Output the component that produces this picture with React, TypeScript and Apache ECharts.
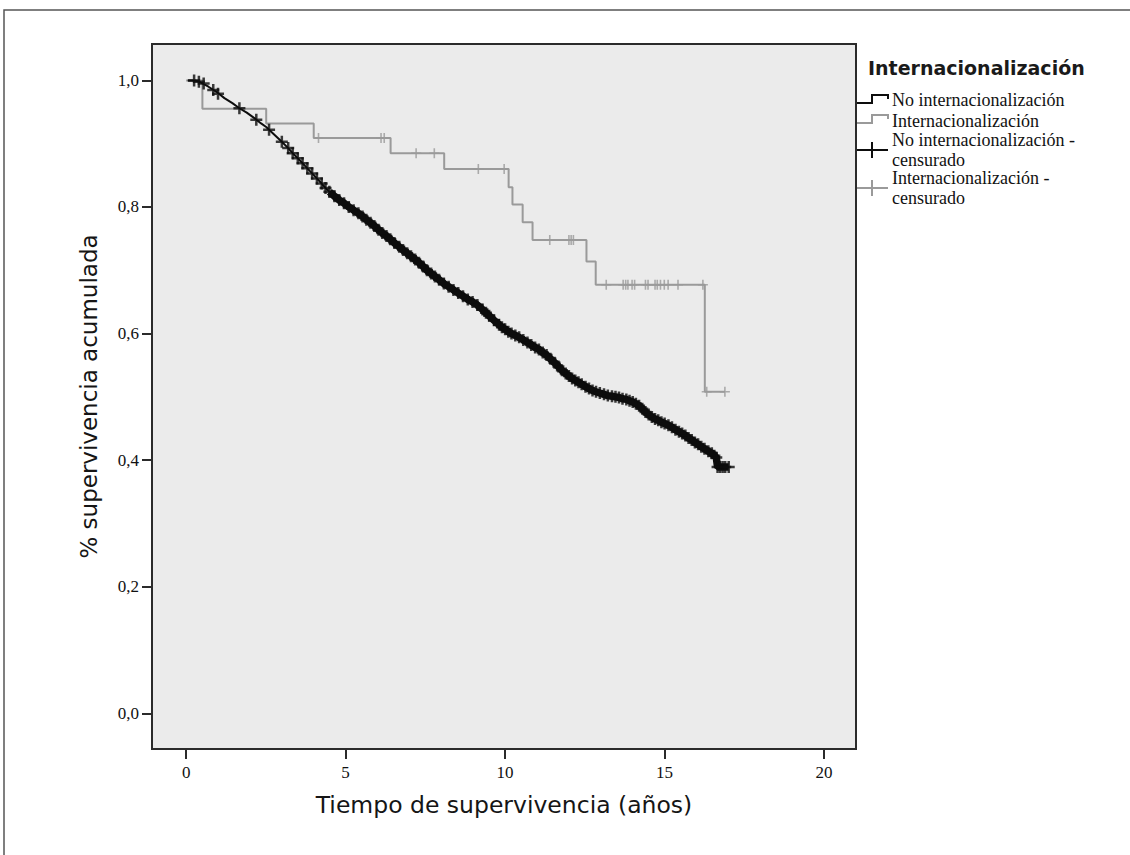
import React, { useEffect, useRef } from "react";
import * as echarts from "echarts";

// ---- data ----
const xTicks = [0, 5, 10, 15, 20];
const yTicks = [0, 0.2, 0.4, 0.6, 0.8, 1.0];

const seriesNames = [
  "No internacionalización",
  "Internacionalización",
  "No internacionalización - censurado",
  "Internacionalización - censurado",
];

// Internacionalización: Kaplan-Meier steps (time in years, cumulative survival)
const intlSteps: number[][] = [
  [0, 1.0], [0.51, 0.955], [2.51, 0.932], [4.0, 0.909], [6.41, 0.885], [8.09, 0.86],
  [10.11, 0.831], [10.23, 0.804], [10.55, 0.776], [10.86, 0.748], [12.55, 0.714],
  [12.84, 0.677], [16.26, 0.508], [16.89, 0.508],
];
const intlCensored: number[][] = [
  [4.15, 0.909], [6.11, 0.909], [6.21, 0.909], [7.21, 0.885], [7.78, 0.885],
  [9.16, 0.86], [9.97, 0.86], [11.4, 0.748], [12.0, 0.748], [12.07, 0.748], [12.14, 0.748],
  [13.17, 0.677], [13.7, 0.677], [13.78, 0.677], [13.85, 0.677], [13.98, 0.677], [14.06, 0.677],
  [14.4, 0.677], [14.48, 0.677], [14.7, 0.677], [14.77, 0.677], [14.87, 0.677], [14.99, 0.677],
  [15.11, 0.677], [15.42, 0.677], [16.2, 0.677], [16.32, 0.508], [16.89, 0.508],
];

// No internacionalización: dense curve (time, survival)
const noIntlCurve: number[][] = [
  [0.05, 1.0], [0.27, 1.0], [0.45, 0.997], [0.7, 0.99], [0.95, 0.982], [1.2, 0.972],
  [1.45, 0.964], [1.67, 0.956], [1.9, 0.949], [2.15, 0.94], [2.35, 0.932], [2.52, 0.926],
  [2.75, 0.915], [3.0, 0.903], [3.2, 0.893], [3.34, 0.885], [3.5, 0.877], [3.65, 0.869],
  [3.8, 0.861], [3.95, 0.853], [4.1, 0.845], [4.25, 0.837], [4.37, 0.83], [4.49, 0.824],
  [4.65, 0.817], [4.8, 0.811], [4.95, 0.806], [5.1, 0.8], [5.25, 0.795], [5.4, 0.79],
  [5.53, 0.785], [5.65, 0.78], [5.78, 0.775], [5.9, 0.77], [6.03, 0.764], [6.15, 0.759],
  [6.28, 0.754], [6.4, 0.749], [6.53, 0.743], [6.68, 0.737], [6.8, 0.732], [6.93, 0.727],
  [7.05, 0.722], [7.18, 0.717], [7.3, 0.712], [7.43, 0.706], [7.55, 0.7], [7.68, 0.695],
  [7.8, 0.69], [7.93, 0.685], [8.08, 0.679], [8.23, 0.674], [8.38, 0.669], [8.53, 0.664],
  [8.68, 0.659], [8.83, 0.654], [8.98, 0.65], [9.13, 0.645], [9.29, 0.638], [9.4, 0.633],
  [9.5, 0.628], [9.65, 0.621], [9.81, 0.614], [9.9, 0.61], [10.0, 0.607], [10.1, 0.603],
  [10.2, 0.6], [10.32, 0.597], [10.44, 0.594], [10.57, 0.59], [10.7, 0.586], [10.82, 0.582],
  [10.94, 0.578], [11.06, 0.575], [11.18, 0.57], [11.3, 0.566], [11.42, 0.56], [11.55, 0.554],
  [11.67, 0.548], [11.78, 0.542], [11.9, 0.537], [12.0, 0.533], [12.1, 0.529], [12.2, 0.526],
  [12.3, 0.523], [12.4, 0.52], [12.52, 0.516], [12.63, 0.513], [12.74, 0.51], [12.85, 0.508],
  [12.97, 0.506], [13.1, 0.504], [13.22, 0.502], [13.35, 0.501], [13.46, 0.5], [13.57, 0.499],
  [13.68, 0.497], [13.8, 0.496], [13.9, 0.494], [14.0, 0.492], [14.1, 0.489], [14.2, 0.486],
  [14.3, 0.481], [14.4, 0.476], [14.5, 0.472], [14.6, 0.468], [14.7, 0.465], [14.8, 0.463],
  [14.9, 0.46], [15.0, 0.458], [15.12, 0.455], [15.23, 0.452], [15.34, 0.448], [15.45, 0.445],
  [15.55, 0.442], [15.65, 0.439], [15.75, 0.435], [15.85, 0.432], [15.95, 0.428], [16.05, 0.425],
  [16.15, 0.421], [16.25, 0.418], [16.37, 0.414], [16.48, 0.411], [16.56, 0.407], [16.62, 0.404],
  [16.66, 0.389], [16.74, 0.389], [16.82, 0.389], [16.9, 0.389], [17.01, 0.389],
];
// early, sparse censored cases of the black curve
const noIntlEarlyCensored: number[][] = [
  [0.25, 1.0], [0.4, 0.998], [0.55, 0.995], [0.85, 0.985], [1.0, 0.979], [1.67, 0.956],
  [2.2, 0.938], [2.6, 0.922], [3.0, 0.903], [3.2, 0.893],
];

const BLACK = "#0d0d0d";
const GREY = "#9a9a9a";
const PLUS = "path://M5,0V10M0,5H10";

export default function App() {
  const ref = useRef<HTMLDivElement>(null);

  useEffect(() => {
    document.body.style.margin = "0";
    if (!ref.current) return;
    const chart = echarts.init(ref.current, null, { renderer: "svg" });

    const noIntlCensored = noIntlEarlyCensored.concat(noIntlCurve.filter((p) => p[0] >= 3.3));
    const denseBand = noIntlCurve.filter((p) => p[0] >= 4.4);

    const serif = "'Liberation Serif', 'Times New Roman', serif";
    const sans = "'DejaVu Sans', 'Open Sans', sans-serif";

    const stepIcon = (y: number, color: string) => ({
      type: "polyline",
      shape: { points: [[857, y + 4], [872, y + 4], [872, y - 4], [888, y - 4], [888, y]] },
      style: { stroke: color, lineWidth: 2, fill: "none" },
    });
    const crossIcon = (y: number, color: string) => ({
      type: "group",
      children: [
        { type: "line", shape: { x1: 857, y1: y, x2: 888, y2: y }, style: { stroke: color, lineWidth: 2 } },
        { type: "line", shape: { x1: 872, y1: y - 8, x2: 872, y2: y + 8 }, style: { stroke: color, lineWidth: 2 } },
      ],
    });
    const legendText = (y: number, text: string) => ({
      type: "text",
      x: 892,
      y,
      style: { text, font: `18px ${serif}`, fill: "#111", verticalAlign: "middle", lineHeight: 20 },
    });

    const option: any = {
      animation: false,
      backgroundColor: "#ffffff",
      grid: {
        left: 152, top: 44, width: 704, height: 705,
        show: true, backgroundColor: "#ebebeb", borderColor: "#2b2b2b", borderWidth: 2,
        containLabel: false, outerBoundsMode: "none",
      },
      xAxis: {
        type: "value", min: -1.07, max: 21.0,
        name: "Tiempo de supervivencia (años)", nameLocation: "middle", nameGap: 44,
        nameTextStyle: { fontFamily: sans, fontSize: 23.5, color: "#151515" },
        axisLine: { show: false, onZero: false },
        axisTick: { show: true, length: 10, customValues: xTicks, lineStyle: { color: "#2b2b2b", width: 2 } },
        axisLabel: { customValues: xTicks, margin: 15, fontFamily: serif, fontSize: 17, color: "#111" },
        splitLine: { show: false },
      },
      yAxis: {
        type: "value", min: -0.0564, max: 1.0575,
        name: "% supervivencia acumulada", nameLocation: "middle", nameGap: 52,
        nameTextStyle: { fontFamily: sans, fontSize: 23, color: "#151515" },
        axisLine: { show: false, onZero: false },
        axisTick: { show: true, length: 10, customValues: yTicks, lineStyle: { color: "#2b2b2b", width: 2 } },
        axisLabel: {
          customValues: yTicks, margin: 13, fontFamily: serif, fontSize: 17, color: "#111",
          formatter: (v: number) => v.toFixed(1).replace(".", ","),
        },
        splitLine: { show: false },
      },
      series: [
        {
          name: seriesNames[1], type: "line", step: "end", data: intlSteps, showSymbol: false,
          lineStyle: { color: GREY, width: 2 }, z: 2,
        },
        {
          name: seriesNames[3], type: "scatter", data: intlCensored, symbol: PLUS, symbolSize: 10,
          itemStyle: { color: "none", borderColor: GREY, borderWidth: 1.6 }, z: 3,
        },
        {
          name: seriesNames[0], type: "line", data: noIntlCurve, showSymbol: false,
          lineStyle: { color: BLACK, width: 2 }, z: 4,
        },
        {
          name: seriesNames[0] + " band", type: "line", data: denseBand, showSymbol: false,
          lineStyle: { color: BLACK, width: 7.5 }, z: 4, silent: true,
        },
        {
          name: seriesNames[2], type: "scatter", data: noIntlCensored, symbol: PLUS, symbolSize: 12,
          itemStyle: { color: "none", borderColor: BLACK, borderWidth: 2.5 }, z: 5,
        },
      ],
      graphic: [
        {
          type: "rect", silent: true, z: -10,
          shape: { x: 4, y: 10, width: 1200, height: 900 },
          style: { fill: "none", stroke: "#555", lineWidth: 1.5 },
        },
        {
          type: "text", x: 868, y: 68,
          style: { text: "Internacionalización", font: `bold 19px ${sans}`, fill: "#1a1a1a", verticalAlign: "middle" },
        },
        stepIcon(99, BLACK),
        legendText(100, seriesNames[0]),
        stepIcon(119, GREY),
        legendText(121, seriesNames[1]),
        crossIcon(150, BLACK),
        legendText(150, "No internacionalización -\ncensurado"),
        crossIcon(188, GREY),
        legendText(188, "Internacionalización -\ncensurado"),
      ],
    };

    chart.setOption(option);
    return () => chart.dispose();
  }, []);

  return <div ref={ref} style={{ width: 1130, height: 855 }} />;
}
